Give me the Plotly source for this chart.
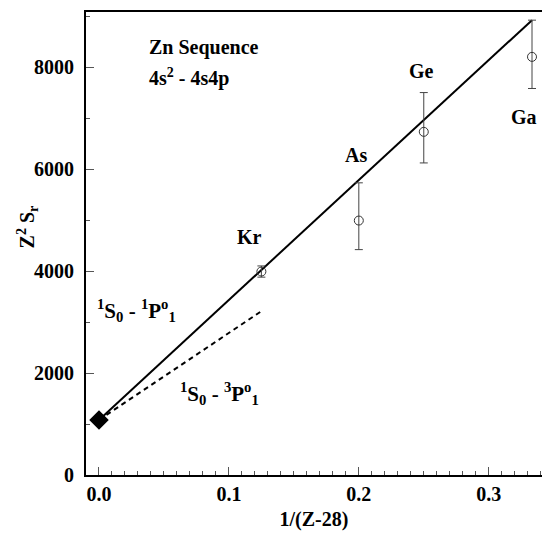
import plotly.graph_objects as go

# Data
elements = ["Kr", "As", "Ge", "Ga"]
x_pts = [0.125, 0.2, 0.25, 0.3333]
y_pts = [3990, 4990, 6730, 8200]
err_plus = [110, 740, 770, 720]
err_minus = [110, 570, 610, 620]

lim_x = [0.0]
lim_y = [1080]

fit_singlet_x = [0.0, 0.3333]
fit_singlet_y = [1080, 8920]
fit_triplet_x = [0.0, 0.126]
fit_triplet_y = [1080, 3230]

label_x = [0.116, 0.198, 0.2485, 0.3273]
label_y = [4667, 6275, 7922, 7020]

FONT = "Liberation Serif"

fig = go.Figure()

fig.add_trace(go.Scatter(x=fit_singlet_x, y=fit_singlet_y, mode="lines",
                         line=dict(color="black", width=2), showlegend=False))
fig.add_trace(go.Scatter(x=fit_triplet_x, y=fit_triplet_y, mode="lines",
                         line=dict(color="black", width=2, dash="5px,4px"), showlegend=False))
fig.add_trace(go.Scatter(x=x_pts, y=y_pts, mode="markers",
                         marker=dict(symbol="circle-open", size=9, color="#333333",
                                     line=dict(width=1, color="#333333")),
                         error_y=dict(type="data", symmetric=False, array=err_plus,
                                      arrayminus=err_minus, color="#444444",
                                      thickness=1, width=4),
                         showlegend=False))
fig.add_trace(go.Scatter(x=lim_x, y=lim_y, mode="markers",
                         marker=dict(symbol="diamond", size=15, color="black"),
                         showlegend=False))

for name, lx, ly in zip(elements, label_x, label_y):
    fig.add_annotation(x=lx, y=ly, text=f"<b>{name}</b>", showarrow=False,
                       font=dict(family=FONT, size=20, color="black"))

fig.add_annotation(x=0.0369, y=8392, xanchor="left", text="<b>Zn Sequence</b>",
                   showarrow=False, font=dict(family=FONT, size=20, color="black"))
fig.add_annotation(x=0.0369, y=7804, xanchor="left", text="<b>4s<sup>2</sup> - 4s4p</b>",
                   showarrow=False, font=dict(family=FONT, size=20, color="black"))
fig.add_annotation(x=-0.003, y=3235, xanchor="left",
                   text="<b><sup>1</sup>S<sub>0</sub> - <sup>1</sup>P<sup>o</sup><sub>1</sub></b>",
                   showarrow=False, font=dict(family=FONT, size=21, color="black"))
fig.add_annotation(x=0.0608, y=1608, xanchor="left",
                   text="<b><sup>1</sup>S<sub>0</sub> - <sup>3</sup>P<sup>o</sup><sub>1</sub></b>",
                   showarrow=False, font=dict(family=FONT, size=21, color="black"))

fig.add_annotation(xref="paper", yref="paper", x=-0.162, y=0.535, textangle=-90,
                   text="<b>Z<sup>2</sup> S<sub>r</sub></b>", showarrow=False,
                   font=dict(family=FONT, size=20, color="black"))

fig.update_xaxes(range=[-0.01, 0.341], showgrid=False, zeroline=False,
                 showline=True, linecolor="black", linewidth=2, mirror=True,
                 ticks="inside", ticklen=8, tickwidth=1, tickcolor="#555555",
                 tickvals=[0.0, 0.1, 0.2, 0.3], ticktext=["<b>0.0</b>", "<b>0.1</b>", "<b>0.2</b>", "<b>0.3</b>"],
                 minor=dict(ticks="inside", ticklen=4, dtick=0.01, tick0=0, tickcolor="#555555", showgrid=False),
                 tickfont=dict(family=FONT, size=20, color="black"),
                 title=dict(text="<b>1/(Z-28)</b>", font=dict(family=FONT, size=20, color="black"), standoff=8))
fig.update_yaxes(range=[0, 9080], showgrid=False, zeroline=False,
                 showline=True, linecolor="black", linewidth=2,
                 ticks="inside", ticklen=8, tickwidth=1, tickcolor="#555555",
                 tickvals=[0, 2000, 4000, 6000, 8000],
                 ticktext=["<b>0</b>", "<b>2000</b>", "<b>4000</b>", "<b>6000</b>", "<b>8000</b>"],
                 minor=dict(ticks="inside", ticklen=4, dtick=1000, tick0=0, tickcolor="#555555", showgrid=False),
                 tickfont=dict(family=FONT, size=20, color="black"), ticklabelstandoff=6)

fig.update_layout(width=542, height=539, margin=dict(l=86, r=0, t=12, b=64),
                  plot_bgcolor="white", paper_bgcolor="white")

fig.write_html("out.html", config={"displayModeBar": False},
               post_script="document.body.style.margin='0';document.body.style.overflow='hidden';")
